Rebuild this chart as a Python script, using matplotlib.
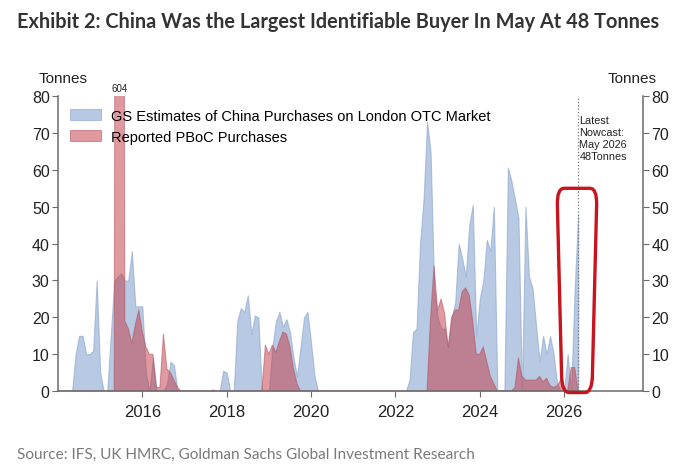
import numpy as np
import matplotlib
matplotlib.use("Agg")
import matplotlib.pyplot as plt
from matplotlib.path import Path
from matplotlib.patches import PathPatch

plt.rcParams['font.family'] = ['Liberation Sans', 'DejaVu Sans']

# monthly values, Jan 2014 .. May 2026 (tonnes)
gs_estimates = [
    0, 0, 0, 0, 0, 10, 15, 15, 10, 10, 11, 30,            # 2014
    5, 0, 0, 15, 30, 31, 32, 30, 30, 38, 23, 23,          # 2015
    23, 5, 0, 9, 0, 0, 0, 2, 8, 7, 0, 0,                  # 2016
    0, 0, 0, 0, 0, 0, 0, 0, 0.5, 0, 0, 5.5,               # 2017
    5, 0, 0, 19, 22.5, 21.5, 26, 15.5, 20.5, 20, 0, 0,    # 2018
    0, 12, 19, 21.5, 17.5, 19.5, 16, 9, 4, 12, 20, 21.5,  # 2019
    13, 4, 0, 0, 0, 0, 0, 0, 0, 0, 0, 0,                  # 2020
    0, 0, 0, 0, 0, 0, 0, 0, 0, 0, 0, 0,                   # 2021
    0, 0, 0, 0, 3, 16, 17, 40, 52, 73, 65, 28,            # 2022
    20, 17, 17, 12, 20, 24, 40, 36, 31, 45, 50.5, 15,     # 2023
    25, 30, 41, 38, 50, 0, 0, 0, 60.6, 57, 52, 47,        # 2024
    0, 50, 31, 28, 18, 8, 15, 10, 15, 10, 2, 0,           # 2025
    0, 10, 0, 28, 48,                                     # 2026
]
pboc_reported = [
    0, 0, 0, 0, 0, 0, 0, 0, 0, 0, 0, 0,                   # 2014
    0, 0, 0, 0, 0, 604, 604, 19, 17, 13, 18, 22,          # 2015
    16, 12, 10, 10, 1, 1, 15.5, 6, 5, 3, 1, 0,            # 2016
    0, 0, 0, 0, 0, 0, 0, 0, 0, 0, 0, 0,                   # 2017
    0, 0, 0, 0, 0, 0, 0, 0, 0, 0, 0, 12.5,                # 2018
    10, 12.5, 10.5, 13.5, 16, 15.5, 12, 6, 2, 0, 0, 0,    # 2019
    0, 0, 0, 0, 0, 0, 0, 0, 0, 0, 0, 0,                   # 2020
    0, 0, 0, 0, 0, 0, 0, 0, 0, 0, 0, 0,                   # 2021
    0, 0, 0, 0, 0, 0, 0, 0, 0, 0, 20, 34,                 # 2022
    22, 25, 21, 12, 20, 22, 22, 27, 28, 26, 19, 10,       # 2023
    10, 12, 8, 4, 2, 0, 0, 0, 0, 0, 1, 9,                 # 2024
    4, 3, 3, 3, 3, 4, 2.5, 3.5, 1.5, 1, 1.5, 3,           # 2025
    0.5, 0, 6.4, 6.4, 0,                                  # 2026
]
gs_label = 'GS Estimates of China Purchases on London OTC Market'
pboc_label = 'Reported PBoC Purchases'
start_year = 2014
nowcast_x = 2026 + 4 / 12
x_ticks = [2016, 2018, 2020, 2022, 2024, 2026]
y_ticks = [0, 10, 20, 30, 40, 50, 60, 70, 80]

x = start_year + np.arange(len(gs_estimates)) / 12

fig = plt.figure(figsize=(6.8, 4.77), dpi=100)
ax = fig.add_axes([0.0853, 0.178, 0.8603, 0.6184])

ax.fill_between(x, 0, gs_estimates, facecolor='#8eaad4', alpha=0.63,
                edgecolor='#8ea6cc', linewidth=0.8, label=gs_label)
ax.fill_between(x, 0, pboc_reported, facecolor='#c43c48', alpha=0.52,
                edgecolor='#b0505a', linewidth=0.8, label=pboc_label)

ax.set_xlim(2014.0, 2027.87)
ax.set_ylim(0, 80)
ax.set_xticks(x_ticks)
ax.set_yticks(y_ticks)

ax.spines['top'].set_visible(False)
for s in ['left', 'bottom', 'right']:
    ax.spines[s].set_color('#6b6b6b')
    ax.spines[s].set_linewidth(1.1)
ax.yaxis.set_ticks_position('both')
ax.tick_params(axis='y', labelright=True, labelsize=11.5, colors='#6b6b6b',
               labelcolor='#222222', length=4, pad=2)
ax.tick_params(axis='x', labelsize=12, colors='#6b6b6b', labelcolor='#222222',
               length=4, pad=5)

fig.text(0.093, 0.834, 'Tonnes', fontsize=11, ha='center', va='center', color='#222222')
fig.text(0.930, 0.834, 'Tonnes', fontsize=11, ha='center', va='center', color='#222222')

leg = ax.legend(loc='upper left', bbox_to_anchor=(0.021, 0.958), frameon=False,
                fontsize=10.5, handlelength=2.1, handleheight=0.75,
                labelspacing=0.5, handletextpad=0.7, borderaxespad=0, borderpad=0)

# clipped 604 tonne spike label
ax.text(2015.45, 82.3, '604', fontsize=7, ha='center', va='center', color='#222222',
        clip_on=False)

# nowcast marker
ax.axvline(nowcast_x, color='#777777', linestyle=':', linewidth=0.9)
ax.text(nowcast_x + 0.03, 74.8, 'Latest\nNowcast:\nMay 2026\n48Tonnes', fontsize=7.8,
        ha='left', va='top', color='#222222', linespacing=1.25)

# red highlight box (rounded trapezoid)
tl, tr, br, bl = (2025.83, 55.0), (2026.78, 55.0), (2026.66, -0.4), (2025.95, -0.4)
rx, ry = 0.17, 4.5
dx_r = (tr[0] - br[0]) * ry / 55
dx_l = (bl[0] - tl[0]) * ry / 55
verts = [
    (tl[0] + rx, tl[1]), (tr[0] - rx, tr[1]),
    tr, (tr[0] - dx_r, tr[1] - ry),
    (br[0] + dx_r, br[1] + ry),
    br, (br[0] - rx, br[1]),
    (bl[0] + rx, bl[1]),
    bl, (bl[0] - dx_l, bl[1] + ry),
    (tl[0] + dx_l, tl[1] - ry),
    tl, (tl[0] + rx, tl[1]),
    (tl[0] + rx, tl[1]),
]
codes = [Path.MOVETO, Path.LINETO, Path.CURVE3, Path.CURVE3, Path.LINETO,
         Path.CURVE3, Path.CURVE3, Path.LINETO, Path.CURVE3, Path.CURVE3,
         Path.LINETO, Path.CURVE3, Path.CURVE3, Path.CLOSEPOLY]
ax.add_patch(PathPatch(Path(verts, codes), facecolor='none', edgecolor='#c8141e',
                       linewidth=2.4, clip_on=False, zorder=5))

fig.text(0.025, 0.954, 'Exhibit 2: China Was the Largest Identifiable Buyer In May At 48 Tonnes',
         fontsize=14.3, fontweight='bold', family=['Lato', 'DejaVu Sans'],
         ha='left', va='center', color='#333333')
fig.text(0.025, 0.046, 'Source: IFS, UK HMRC, Goldman Sachs Global Investment Research',
         fontsize=11.1, family=['Lato', 'DejaVu Sans'], ha='left', va='center',
         color='#7a7a7a')

fig.savefig('out.png', dpi=100, facecolor='white')
